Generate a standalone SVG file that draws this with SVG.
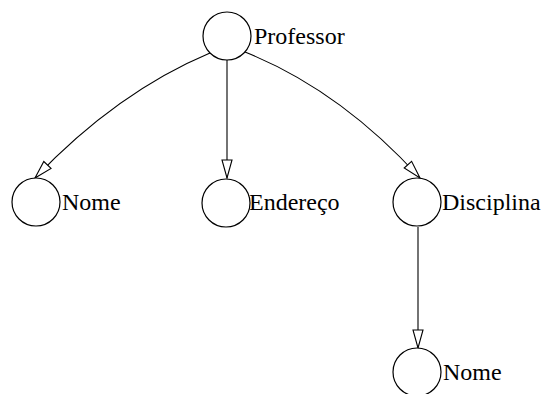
<svg xmlns="http://www.w3.org/2000/svg" width="544" height="394" viewBox="0 0 544 394">
  <defs>
    <style>
      .node circle { fill: #fff; stroke: #000; stroke-width: 1.2; }
      .node text { font-family: "Liberation Serif", "Times New Roman", serif; font-size: 24px; fill: #000; }
      .edges path { fill: none; stroke: #000; stroke-width: 1.1; marker-end: url(#open-arrow); }
    </style>
    <marker id="open-arrow" viewBox="-20 -7 22 14" refX="0" refY="0" markerWidth="22" markerHeight="14" markerUnits="userSpaceOnUse" orient="auto">
      <path d="M0,0 L-18,-5 L-18,5 Z" fill="#fff" stroke="#000" stroke-width="1.1"/>
    </marker>
  </defs>
  <rect width="544" height="394" fill="#fff"/>

  <g class="edges">
    <path d="M210,53 Q117,92 35,178"/>
    <path d="M227,60 L227,178"/>
    <path d="M245,52 Q340,90 420,178"/>
    <path d="M418,227 L418,348"/>
  </g>

  <g id="professor" class="node">
    <circle cx="227" cy="36" r="24"/>
    <text x="254" y="44">Professor</text>
  </g>
  <g id="nome" class="node">
    <circle cx="36" cy="202" r="24"/>
    <text x="62" y="210">Nome</text>
  </g>
  <g id="endereco" class="node">
    <circle cx="226" cy="203" r="24"/>
    <text x="249" y="210">Endereço</text>
  </g>
  <g id="disciplina" class="node">
    <circle cx="417" cy="202" r="24"/>
    <text x="442" y="210">Disciplina</text>
  </g>
  <g id="disciplina-nome" class="node">
    <circle cx="417" cy="372" r="24"/>
    <text x="443" y="380">Nome</text>
  </g>
</svg>
